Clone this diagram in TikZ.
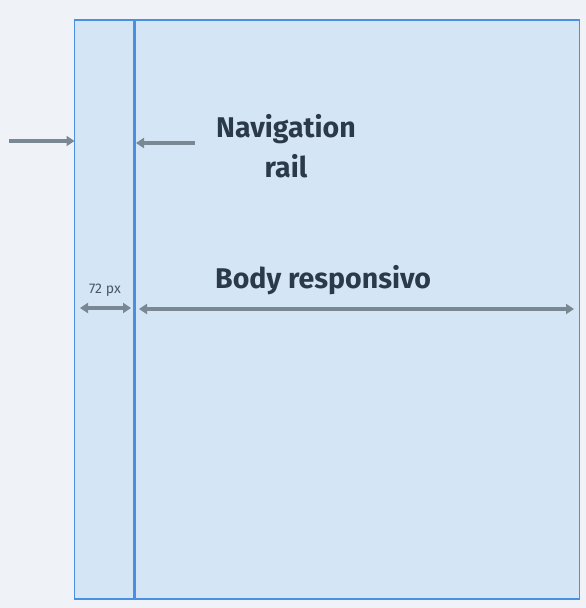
\documentclass[tikz,border=0pt]{standalone}
\usepackage{fontspec}
\setmainfont{Fira Sans}
\usetikzlibrary{arrows.meta}
\definecolor{bgc}{HTML}{EFF3F7}
\definecolor{panel}{HTML}{D4E5F5}
\definecolor{edge}{HTML}{4A90E2}
\definecolor{arr}{HTML}{7A8893}
\definecolor{txt}{HTML}{2B3A4A}
\tikzset{
  panelbox/.style={draw=edge, fill=panel, line width=1.5pt, minimum height=579pt, inner sep=0pt, outer sep=0pt},
  pointer/.style={draw=arr, line width=3.2pt, -{Triangle[length=8pt,width=10pt]}},
  span/.style={draw=arr, line width=3.2pt, {Triangle[length=8pt,width=10pt]}-{Triangle[length=8pt,width=10pt]}},
  title/.style={text=txt, font=\bfseries\fontsize{28.5}{40}\selectfont, align=center, inner sep=0pt},
  small/.style={text=txt!85, font=\fontsize{14}{16}\selectfont, inner sep=0pt}
}
\begin{document}
\begin{tikzpicture}[x=1pt,y=-1pt]
\fill[bgc] (0,0) rectangle (586,608);
\useasboundingbox (0,0) rectangle (586,608);
\node[panelbox, minimum width=505pt, anchor=north west] (frame) at (74.5,20) {};
\node[panelbox, minimum width=60pt, anchor=north west, fill=none] (rail) at (74.5,20) {};
\draw[edge, line width=2.4pt] (rail.north east) -- (rail.south east);
\node[title] (nav) at (286,146) {Navigation\\rail};
\node[title, anchor=west] (body) at (215,280) {Body responsivo};
\node[small] (w72) at (105,290) {72 px};
\coordinate (ext) at (9,141);
\coordinate (navtail) at (195,143);
\draw[pointer] (ext) -- (ext -| rail.west);
\draw[pointer] (navtail) -- ([xshift=1.5pt]navtail -| rail.east);
\draw[span] (80,308) -- (131,308);
\draw[span] (139,309) -- (574,309);
\end{tikzpicture}
\end{document}
